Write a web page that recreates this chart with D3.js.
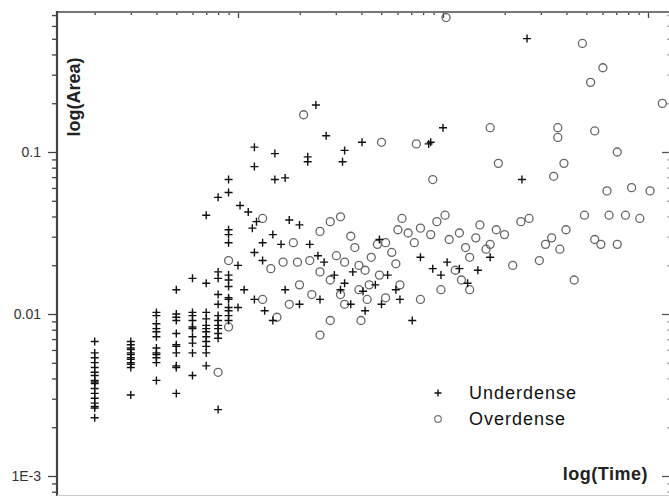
<!DOCTYPE html>
<html>
<head>
<meta charset="utf-8">
<script src="https://cdn.jsdelivr.net/npm/d3@7/dist/d3.min.js"></script>
<style>
  body { margin:0; background:#fff; }
  svg { display:block; font-family:"Liberation Sans", Arial, sans-serif; }
</style>
</head>
<body>
<svg id="chart"></svg>
<script>
// points are [log10(Time), log10(Area)]
var underdense = [
  [0.301,-2.17],[0.301,-2.24],[0.301,-2.27],[0.301,-2.30],[0.301,-2.33],[0.301,-2.36],[0.301,-2.38],[0.301,-2.41],
  [0.301,-2.42],[0.301,-2.43],[0.301,-2.46],[0.301,-2.49],[0.301,-2.52],[0.301,-2.55],[0.301,-2.57],[0.301,-2.58],[0.301,-2.64],
  [0.477,-2.17],[0.477,-2.19],[0.477,-2.21],[0.477,-2.22],[0.477,-2.24],[0.477,-2.25],[0.477,-2.27],[0.477,-2.28],
  [0.477,-2.30],[0.477,-2.31],[0.477,-2.33],[0.477,-2.50],
  [0.602,-1.99],[0.602,-2.01],[0.602,-2.06],[0.602,-2.09],[0.602,-2.11],[0.602,-2.14],[0.602,-2.21],[0.602,-2.24],
  [0.602,-2.25],[0.602,-2.27],[0.602,-2.30],[0.602,-2.41],
  [0.699,-1.85],[0.699,-2.00],[0.699,-2.02],[0.699,-2.04],[0.699,-2.12],[0.699,-2.19],[0.699,-2.20],[0.699,-2.24],
  [0.699,-2.32],[0.699,-2.33],[0.699,-2.49],
  [0.778,-1.78],[0.778,-1.99],[0.778,-2.01],[0.778,-2.04],[0.778,-2.08],[0.778,-2.09],[0.778,-2.14],[0.778,-2.18],
  [0.778,-2.24],[0.778,-2.38],
  [0.845,-1.39],[0.845,-1.81],[0.845,-1.99],[0.845,-2.03],[0.845,-2.07],[0.845,-2.09],[0.845,-2.11],[0.845,-2.14],
  [0.845,-2.17],[0.845,-2.20],[0.845,-2.24],[0.845,-2.32],
  [0.903,-1.28],[0.903,-1.74],[0.903,-1.78],[0.903,-1.88],[0.903,-1.94],[0.903,-2.01],[0.903,-2.04],[0.903,-2.07],
  [0.903,-2.09],[0.903,-2.12],[0.903,-2.15],[0.903,-2.59],
  [0.954,-1.17],[0.954,-1.25],[0.954,-1.48],[0.954,-1.51],[0.954,-1.56],[0.954,-1.76],[0.954,-1.79],[0.954,-1.83],
  [0.954,-1.90],[0.954,-1.91],[0.954,-1.96],[0.954,-1.98],[0.954,-2.01],[0.954,-2.04],
  [1.0,-1.70],[1.0,-1.96],
  [2.41,-0.30],[1.38,-0.71],[1.43,-0.90],[2.0,-0.85],[1.94,-0.94],[1.605,-0.94],[1.93,-0.95],[1.08,-0.97],
  [1.18,-1.01],[1.52,-0.99],[1.34,-1.03],[1.34,-1.06],[1.51,-1.06],[1.08,-1.09],[1.18,-1.17],[1.23,-1.16],[2.385,-1.17],
  [1.01,-1.33],[1.05,-1.37],[1.07,-1.47],[1.09,-1.43],[1.12,-1.56],[1.08,-1.62],[1.12,-1.67],[1.17,-1.51],
  [1.21,-1.57],[1.25,-1.42],[1.03,-1.85],[1.08,-1.91],[1.13,-1.98],[1.17,-2.04],[1.23,-1.85],[1.30,-1.94],
  [1.35,-1.57],[1.39,-1.64],[1.42,-1.68],[1.47,-1.76],[1.52,-1.81],[1.56,-1.74],[1.61,-1.86],[1.67,-1.82],
  [1.73,-1.76],[1.77,-1.85],[1.79,-1.91],[1.70,-1.94],[1.62,-1.98],[1.55,-1.94],[1.40,-1.91],[1.50,-1.85],
  [1.85,-2.04],[1.89,-1.65],[1.95,-1.72],[1.99,-1.76],[2.02,-1.68],[2.08,-1.72],[2.12,-1.81],[2.17,-1.73],
  [2.23,-1.65],[1.69,-1.54],[1.30,-1.45]
];

var overdense = [
  [0.903,-2.36],[0.954,-1.67],[0.954,-2.08],
  [2.015,-0.17],[2.68,-0.33],[2.78,-0.48],[2.72,-0.57],[3.07,-0.70],[1.32,-0.77],[2.23,-0.85],[2.56,-0.85],
  [2.56,-0.91],[2.74,-0.87],[1.70,-0.94],[1.87,-0.95],[2.85,-1.00],[2.27,-1.07],[2.59,-1.07],[2.54,-1.15],
  [1.95,-1.17],[2.80,-1.24],
  [1.12,-1.41],[1.16,-1.72],[1.22,-1.68],[1.27,-1.56],[1.29,-1.68],
  [1.40,-1.49],[1.45,-1.43],[1.50,-1.40],[1.55,-1.52],[1.57,-1.59],[1.48,-1.64],[1.52,-1.68],[1.59,-1.70],
  [1.62,-1.73],[1.65,-1.65],[1.68,-1.57],[1.72,-1.56],[1.75,-1.62],[1.78,-1.48],[1.80,-1.41],[1.77,-1.69],
  [1.69,-1.76],[1.64,-1.82],[1.59,-1.85],[1.50,-1.88],[1.45,-1.79],[1.40,-1.74],[1.35,-1.67],
  [1.83,-1.50],[1.86,-1.56],[1.89,-1.47],[1.94,-1.51],[1.97,-1.43],[2.01,-1.39],[2.03,-1.54],[2.08,-1.50],
  [2.11,-1.59],[2.13,-1.65],[2.16,-1.53],[2.18,-1.45],[2.21,-1.60],[2.23,-1.57],[2.26,-1.48],[2.06,-1.73],
  [2.13,-1.85],[2.09,-1.79],
  [2.30,-1.51],[2.34,-1.70],[2.38,-1.43],[2.42,-1.41],[2.47,-1.67],[2.50,-1.57],[2.53,-1.53],[2.57,-1.60],
  [2.60,-1.48],[2.64,-1.79],[2.69,-1.39],[2.74,-1.54],[2.77,-1.57],[2.81,-1.39],[2.85,-1.57],[2.89,-1.39],
  [2.92,-1.22],[2.96,-1.41],[3.01,-1.24],
  [1.12,-1.91],[1.19,-2.02],[1.25,-1.94],[1.30,-1.82],[1.36,-1.88],[1.40,-2.13],[1.45,-2.04],[1.52,-1.94],
  [1.60,-2.04],[1.63,-1.91],[1.72,-1.90],[1.79,-1.82],[1.89,-1.91],[1.99,-1.85]
];

var yLabelValues = [0.1, 0.01, 0.001];
var yLabelText = ["0.1", "0.01", "1E-3"];
var xMajorValues = [10, 100, 1000];
var legendLabels = ["Underdense", "Overdense"];

var W = 669, H = 496;
var mLeft = 57, mTop = 12, mRight = 669, mBottom = 496;

var svg = d3.select("#chart").attr("width", W).attr("height", H);

// log scales, one decade = 205px on x and 162px on y
var x = d3.scaleLog().domain([10, 1000]).range([238, 648]);
var y = d3.scaleLog().domain([0.1, 0.001]).range([152, 476]);

var xLo = x.invert(mLeft), xHi = x.invert(mRight);
var yLo = y.invert(mBottom), yHi = y.invert(mTop);

var minorTicks = function(lo, hi){
  var out = [];
  for(var e = Math.floor(Math.log10(lo)); e <= Math.ceil(Math.log10(hi)); e++){
    for(var k = 2; k <= 9; k++){
      var v = k * Math.pow(10, e);
      if(v > lo && v < hi) out.push(v);
    }
  }
  return out;
};

var plainTicks = function(g, col){
  g.select(".domain").remove();
  g.selectAll("line").attr("stroke", col).attr("stroke-width", 1.3);
};

// left axis: outward ticks with labels
var gl = svg.append("g").attr("transform", "translate(" + mLeft + ",0)")
  .call(d3.axisLeft(y).tickValues(yLabelValues).tickSize(9).tickSizeOuter(0)
    .tickFormat(function(d, i){ return yLabelText[i]; }));
gl.select(".domain").remove();
gl.selectAll(".tick line").attr("stroke", "#444").attr("stroke-width", 1.3);
gl.selectAll(".tick text").attr("x", -16).attr("font-size", 14).attr("fill", "#333")
  .attr("font-family", "'Liberation Sans', Arial, sans-serif");
svg.append("g").attr("transform", "translate(" + mLeft + ",0)")
  .call(d3.axisLeft(y).tickValues(minorTicks(yLo, yHi)).tickSize(5).tickFormat(""))
  .call(plainTicks, "#444");

// right axis: inward ticks
svg.append("g").attr("transform", "translate(" + mRight + ",0)")
  .call(d3.axisLeft(y).tickValues(yLabelValues).tickSize(7).tickFormat(""))
  .call(plainTicks, "#555");
svg.append("g").attr("transform", "translate(" + mRight + ",0)")
  .call(d3.axisLeft(y).tickValues(minorTicks(yLo, yHi)).tickSize(2).tickFormat(""))
  .call(plainTicks, "#aaa");

// top axis: inward ticks, no labels
svg.append("g").attr("transform", "translate(0," + mTop + ")")
  .call(d3.axisBottom(x).tickValues(xMajorValues).tickSize(6).tickFormat(""))
  .call(plainTicks, "#444");
svg.append("g").attr("transform", "translate(0," + mTop + ")")
  .call(d3.axisBottom(x).tickValues(minorTicks(xLo, xHi)).tickSize(3).tickFormat(""))
  .call(plainTicks, "#444");

// frame lines
svg.append("line").attr("x1", mLeft).attr("x2", mRight).attr("y1", mTop).attr("y2", mTop)
  .attr("stroke", "#777").attr("stroke-width", 2);
svg.append("line").attr("x1", mLeft).attr("x2", mLeft).attr("y1", mTop - 1).attr("y2", mBottom)
  .attr("stroke", "#444").attr("stroke-width", 2.2);
svg.append("line").attr("x1", mLeft).attr("x2", mRight).attr("y1", mBottom - 0.5).attr("y2", mBottom - 0.5)
  .attr("stroke", "#ccc").attr("stroke-width", 1);

// axis titles
svg.append("text")
  .attr("transform", "translate(" + 80 + "," + 97 + ") rotate(-90)")
  .attr("text-anchor", "middle")
  .attr("font-size", 18).attr("font-weight", "bold").attr("fill", "#222")
  .text("log(Area)");
svg.append("text")
  .attr("x", 648).attr("y", 480).attr("text-anchor", "end")
  .attr("font-size", 18).attr("font-weight", "bold").attr("fill", "#222").attr("letter-spacing", 0.5)
  .text("log(Time)");

// markers
var plus = function(sel, s){
  sel.append("path").attr("d", "M-" + s + ",0H" + s + "M0,-" + s + "V" + s)
    .attr("stroke", "#111").attr("stroke-width", 1.4).attr("fill", "none");
};

var pts = svg.append("g");
pts.selectAll("circle.over")
  .data(overdense)
  .enter()
  .append("circle")
  .attr("class", "over")
  .attr("cx", function(d){ return x(Math.pow(10, d[0])); })
  .attr("cy", function(d){ return y(Math.pow(10, d[1])); })
  .attr("r", 4)
  .attr("fill", "none")
  .attr("stroke", "#666")
  .attr("stroke-width", 1.3);

pts.selectAll("g.under")
  .data(underdense)
  .enter()
  .append("g")
  .attr("class", "under")
  .attr("transform", function(d){ return "translate(" + x(Math.pow(10, d[0])) + "," + y(Math.pow(10, d[1])) + ")"; })
  .call(plus, 4);

// legend
var lg = svg.append("g");
lg.append("g").attr("transform", "translate(438,393)").call(plus, 3.5);
lg.append("circle").attr("cx", 438).attr("cy", 419).attr("r", 3.3)
  .attr("fill", "none").attr("stroke", "#777").attr("stroke-width", 1.2);
lg.selectAll("text.leg")
  .data(legendLabels)
  .enter()
  .append("text")
  .attr("class", "leg")
  .attr("x", 469)
  .attr("y", function(d, i){ return 399 + i * 26; })
  .attr("font-size", 18).attr("fill", "#111").attr("letter-spacing", 1)
  .text(function(d){ return d; });
</script>
</body>
</html>
